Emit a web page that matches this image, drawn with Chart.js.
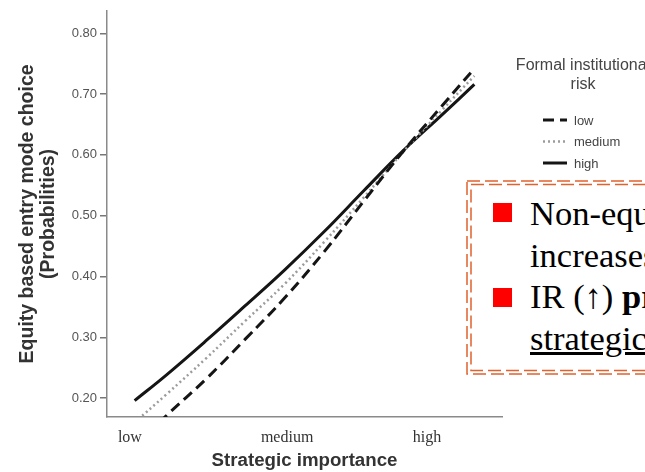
<!DOCTYPE html>
<html>
<head>
<meta charset="utf-8">
<script src="https://cdn.jsdelivr.net/npm/chart.js@4.4.1/dist/chart.umd.min.js"></script>
<style>
    html, body { margin: 0; padding: 0; background: #fff; overflow: hidden; }
    #wrap { position: relative; width: 645px; height: 472px; overflow: hidden; }
    #chart { position: absolute; left: 0; top: 0; }
    #note {
        position: absolute; left: 466px; top: 180px; width: 260px; height: 196px;
        background: #fff; font-family: "Liberation Serif", "Times New Roman", serif;
        font-size: 34.5px; color: #000;
    }
    #note svg { position: absolute; left: 0; top: 0; }
    #note .line { position: absolute; left: 64px; line-height: 30px; white-space: nowrap; }
    #note .bullet { position: absolute; left: 27px; width: 19px; height: 19px; background: #ff0000; }
</style>
</head>
<body>
<div id="wrap">
    <canvas id="chart" width="645" height="472"></canvas>
    <div id="note">
        <svg width="260" height="196">
            <rect x="1" y="1" width="300" height="193" fill="none" stroke="#e0622e" stroke-width="1.5" stroke-dasharray="13 5"/>
            <rect x="5" y="4.5" width="300" height="186" fill="none" stroke="#e0622e" stroke-width="1.5" stroke-dasharray="13 5"/>
        </svg>
        <div class="bullet" style="top:23px"></div>
        <div class="line" style="top:18px">Non-equity entry mode</div>
        <div class="line" style="top:60px">increases</div>
        <div class="bullet" style="top:108px"></div>
        <div class="line" style="top:101px">IR (↑) <b>promotes</b></div>
        <div class="line" style="top:143px"><u>strategic importance</u></div>
    </div>
</div>
<script>
// Strategic importance (continuous, 0 = left edge of axis, 100 = right edge)
const importance = [7, 15, 25, 35, 45, 55, 65, 75, 85, 93];

// Predicted probability of equity based entry mode, by formal institutional risk
const lowRisk    = [0.120, 0.171, 0.231, 0.297, 0.365, 0.441, 0.524, 0.606, 0.682, 0.742];
const mediumRisk = [0.160, 0.206, 0.265, 0.327, 0.388, 0.457, 0.530, 0.605, 0.675, 0.730];
const highRisk   = [0.196, 0.238, 0.294, 0.352, 0.411, 0.474, 0.541, 0.607, 0.667, 0.716];

const xTickLabels = ['low', 'medium', 'high'];
const xTickValues = [5.8, 45.6, 81];
const yTickValues = [0.20, 0.30, 0.40, 0.50, 0.60, 0.70, 0.80];

const legendTitle = ['Formal institutional', 'risk'];

function toPoints(values) {
    return values.map((v, i) => ({ x: importance[i], y: v }));
}

// Legend drawn by hand, SPSS style, at the top right
const sideLegend = {
    id: 'sideLegend',
    afterDraw(chart) {
        const ctx = chart.ctx;
        ctx.save();
        ctx.fillStyle = '#444';
        ctx.textBaseline = 'middle';
        ctx.font = '16px "Liberation Sans", Arial, sans-serif';
        ctx.textAlign = 'center';
        legendTitle.forEach((t, i) => ctx.fillText(t, 583, 66 + i * 19));

        ctx.font = '13px "Liberation Sans", Arial, sans-serif';
        ctx.textAlign = 'left';
        chart.data.datasets.forEach((ds, i) => {
            const y = 120 + i * 21.5;
            ctx.beginPath();
            ctx.setLineDash(ds.borderDash || []);
            ctx.lineWidth = ds.borderWidth;
            ctx.strokeStyle = ds.borderColor;
            ctx.moveTo(543, y);
            ctx.lineTo(567, y);
            ctx.stroke();
            ctx.setLineDash([]);
            ctx.fillText(ds.label, 574, y + 1);
        });
        ctx.restore();
    }
};

const chart = new Chart(document.getElementById('chart'), {
    type: 'line',
    data: {
        datasets: [{
            label: 'low',
            data: toPoints(lowRisk),
            borderColor: '#151515',
            borderWidth: 3,
            borderDash: [11, 6]
        }, {
            label: 'medium',
            data: toPoints(mediumRisk),
            borderColor: '#9c9c9c',
            borderWidth: 2.5,
            borderDash: [2, 3]
        }, {
            label: 'high',
            data: toPoints(highRisk),
            borderColor: '#151515',
            borderWidth: 3
        }]
    },
    options: {
        responsive: false,
        animation: false,
        layout: { padding: { left: 0, right: 143, top: 6, bottom: 0 } },
        elements: {
            point: { radius: 0 },
            line: { tension: 0.4, fill: false }
        },
        plugins: {
            legend: { display: false },
            tooltip: { enabled: false }
        },
        scales: {
            x: {
                type: 'linear',
                min: 0,
                max: 100,
                afterFit: scale => { scale.height = 55; },
                afterBuildTicks: scale => {
                    scale.ticks = xTickValues.map(v => ({ value: v }));
                },
                ticks: {
                    padding: 11,
                    maxRotation: 0,
                    autoSkip: false,
                    color: '#333',
                    font: { family: '"Liberation Serif", "Times New Roman", serif', size: 16 },
                    callback: (v, i) => xTickLabels[i]
                },
                grid: { display: false, drawTicks: false },
                border: { color: '#8a8a8a', width: 1.5 },
                title: {
                    display: true,
                    text: 'Strategic importance',
                    color: '#333',
                    padding: { top: 0, bottom: 1 },
                    font: { family: '"Liberation Sans", Arial, sans-serif', size: 18.7, weight: 'bold', lineHeight: 1.07 }
                }
            },
            y: {
                min: 0.169,
                max: 0.837,
                afterFit: scale => { scale.width = 107; },
                afterBuildTicks: scale => {
                    scale.ticks = yTickValues.map(v => ({ value: v }));
                },
                ticks: {
                    padding: 3,
                    color: '#555',
                    font: { family: '"Liberation Sans", Arial, sans-serif', size: 13 },
                    callback: v => v.toFixed(2)
                },
                grid: { drawOnChartArea: false, tickLength: 7, color: '#777', lineWidth: 1.5 },
                border: { color: '#8a8a8a', width: 1.5 },
                title: {
                    display: true,
                    text: ['Equity based entry mode choice', '(Probabilities)'],
                    color: '#333',
                    padding: { top: 18, bottom: 0 },
                    font: { family: '"Liberation Sans", Arial, sans-serif', size: 19.5, weight: 'bold', lineHeight: 1.03 }
                }
            }
        }
    },
    plugins: [sideLegend]
});
</script>
</body>
</html>
